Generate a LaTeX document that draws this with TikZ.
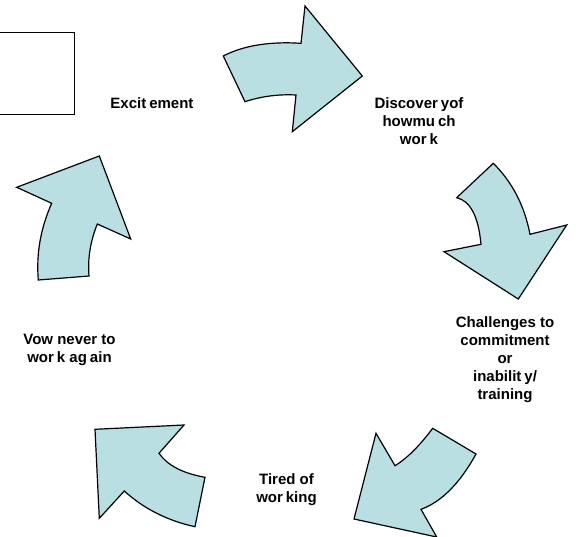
\documentclass[tikz,border=0pt]{standalone}
\usepackage{fontspec}
\setmainfont{Liberation Sans}
\definecolor{arrowfill}{RGB}{185,223,226}
\newcommand{\kgap}{\hspace{0.2em}}
\tikzset{
  arrowshape/.style={fill=arrowfill, draw=black, line width=1.2pt, line join=miter},
  label/.style={font=\bfseries\fontsize{15}{18}\selectfont, align=center, inner sep=0pt},
  frame/.style={draw=black, line width=1.3pt}
}
\begin{document}
\begin{tikzpicture}[x=1pt, y=-1pt]
\useasboundingbox (0,0) rectangle (579,537);
% empty box at top left (open at the page edge)
\draw[frame] (0,32.5) -- (74.5,32.5) -- (74.5,114.5) -- (0,114.5);
% top arrow
\draw[arrowshape] (223.3,56) .. controls (243.6,45.5) and (269.5,41.3) .. (301,43.3)
  -- (305,6) -- (362.3,76) -- (292.3,131.7) -- (296,95)
  .. controls (278.3,94.1) and (261.3,96.3) .. (245,101.7) -- cycle;
% right arrow
\draw[arrowshape] (493.3,163.3) .. controls (512.1,181.9) and (524.5,205.6) .. (530,234.3)
  -- (566.7,225) -- (518.3,299) -- (444,251.7) -- (481,244.3)
  .. controls (478.4,216.4) and (470.3,200.8) .. (456.7,197.7) -- cycle;
% bottom right arrow
\draw[arrowshape] (432.7,428.3) -- (476,454)
  .. controls (459.7,483.6) and (441.3,502) .. (421,509.3)
  -- (436.7,537) -- (354,519) -- (376,433.3) -- (395,465.7)
  .. controls (407.8,457.9) and (420.3,444.8) .. (432.7,428.3) -- cycle;
% bottom left arrow
\draw[arrowshape] (95,429.3) -- (184,425) -- (159,453.3)
  .. controls (167.3,465.3) and (182.6,473.3) .. (205,477.3)
  -- (195,526.7)
  .. controls (167.5,520.7) and (143.9,508.8) .. (124.3,491)
  -- (99.3,518.3) -- cycle;
% left arrow
\draw[arrowshape] (38.3,280) -- (89,276)
  .. controls (87.6,258.7) and (90.3,241.3) .. (97.3,224)
  -- (130.7,239) -- (99.3,156) -- (16.7,187.3) -- (51.7,203.3)
  .. controls (40.6,228.3) and (36.1,253.8) .. (38.3,280) -- cycle;
% labels
\node[label] (excite) at (152,103) {Excit\kgap ement};
\node[label] (discover) at (419,121) {Discover\kgap yof\\howmu\kgap ch\\wor\kgap k};
\node[label] (challenge) at (505,360) {Challenges to\\commitment\\or\\inabilit\kgap y/\\training};
\node[label] (tired) at (286.5,490) {Tired of\\wor\kgap king};
\node[label] (vow) at (69.5,350) {Vow never to\\wor\kgap k ag\kgap ain};
\end{tikzpicture}
\end{document}
